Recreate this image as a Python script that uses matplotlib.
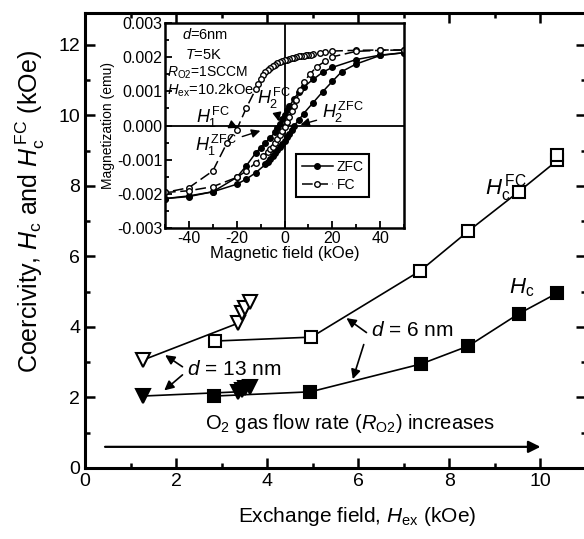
import matplotlib
matplotlib.use("Agg")
import matplotlib.pyplot as plt
from matplotlib.ticker import MultipleLocator, FormatStrFormatter

plt.rcParams['font.family'] = ['Liberation Sans', 'DejaVu Sans']
plt.rcParams['mathtext.fontset'] = 'custom'
plt.rcParams['mathtext.rm'] = 'Liberation Sans'
plt.rcParams['mathtext.it'] = 'Liberation Sans:italic'
plt.rcParams['axes.unicode_minus'] = False

# main panel data (kOe)
hfc6_x = [2.86, 4.97, 7.36, 8.42, 9.52, 10.37, 10.37]
hfc6_y = [3.60, 3.71, 5.59, 6.72, 7.83, 8.72, 8.86]
hc6_x = [2.84, 4.95, 7.38, 8.42, 9.52, 10.37]
hc6_y = [2.04, 2.16, 2.95, 3.46, 4.37, 4.96]
hfc13_x = [1.27, 3.37, 3.45, 3.52, 3.63]
hfc13_y = [3.06, 4.11, 4.40, 4.54, 4.71]
hc13_x = [1.27, 3.37, 3.45, 3.52, 3.63]
hc13_y = [2.04, 2.16, 2.20, 2.27, 2.30]

# inset hysteresis loops (kOe, emu)
zfc_dn_h = [50, 40, 30, 20, 16, 12, 8, 6, 4, 2, 1, 0, -1, -2, -3, -4, -6, -8,
            -10, -12, -16, -20, -30, -40, -50]
zfc_dn_m = [0.00213, 0.00206, 0.00193, 0.00170, 0.00156, 0.00135, 0.00113,
            0.00098, 0.00078, 0.00056, 0.00044, 0.00032, 0.00018, 0.00004,
            -0.00008, -0.00020, -0.00036, -0.00050, -0.00065, -0.00080,
            -0.00118, -0.00152, -0.00194, -0.00206, -0.00214]
zfc_up_h = [-50, -40, -30, -20, -16, -12, -8, -7, -6, -5, -4, -3, -2, -1, 0,
            1, 2, 3, 4, 6, 8, 12, 16, 20, 24, 30, 40, 50]
zfc_up_m = [-0.00214, -0.00208, -0.00194, -0.00172, -0.00157, -0.00138,
            -0.00114, -0.00106, -0.00098, -0.00090, -0.00081, -0.00072,
            -0.00063, -0.00054, -0.00044, -0.00035, -0.00024, -0.00012,
            -0.00001, 0.00016, 0.00035, 0.00067, 0.00099, 0.00129, 0.00158,
            0.00180, 0.00205, 0.00213]
fc_dn_h = [50, 40, 30, 20, 17, 15, 12, 11, 10, 9, 8, 7, 6, 5, 4, 3, 2, 1, 0,
           -1, -2, -3, -4, -5, -6, -7, -8, -9, -10, -11, -12, -16, -20, -24,
           -30, -40, -50]
fc_dn_m = [0.00221, 0.00221, 0.00220, 0.00218, 0.00216, 0.00213, 0.00208,
           0.00207, 0.00206, 0.00205, 0.00204, 0.00203, 0.00202, 0.00201,
           0.00199, 0.00197, 0.00195, 0.00193, 0.00191, 0.00188, 0.00185,
           0.00182, 0.00178, 0.00174, 0.00169, 0.00163, 0.00156, 0.00147,
           0.00136, 0.00122, 0.00107, 0.00051, -0.00012, -0.00050, -0.00133,
           -0.00182, -0.00196]
fc_up_h = [-50, -40, -30, -20, -16, -12, -9, -7, -6, -5, -4, -3, -2, -1, 0,
           1, 2, 3, 4, 5, 6.5, 8, 10.7, 13.5, 17, 20, 30, 40, 50]
fc_up_m = [-0.00196, -0.00191, -0.00179, -0.00152, -0.00133, -0.00109,
           -0.00089, -0.00077, -0.00070, -0.00062, -0.00052, -0.00040,
           -0.00028, -0.00016, -0.00004, 0.00010, 0.00026, 0.00042, 0.00058,
           0.00074, 0.00105, 0.00126, 0.00151, 0.00172, 0.00188, 0.00201,
           0.00217, 0.00220, 0.00221]

fig = plt.figure(figsize=(5.84, 5.39), dpi=100)
ax = fig.add_axes([85 / 584, 71 / 539, 501 / 584, 455 / 539])

mk = dict(color='k', lw=1.2, markeredgecolor='k', markeredgewidth=1.5)
ax.plot(hfc6_x, hfc6_y, marker='s', ms=9, markerfacecolor='white', **mk)
ax.plot(hc6_x, hc6_y, marker='s', ms=9, markerfacecolor='k', **mk)
ax.plot(hfc13_x, hfc13_y, marker='v', ms=10, markerfacecolor='white', **mk)
ax.plot(hc13_x, hc13_y, marker='v', ms=10, markerfacecolor='k', **mk)

ax.set_xlim(0, 11)
ax.set_ylim(0, 12.9)
ax.xaxis.set_major_locator(MultipleLocator(2))
ax.xaxis.set_minor_locator(MultipleLocator(1))
ax.yaxis.set_major_locator(MultipleLocator(2))
ax.yaxis.set_minor_locator(MultipleLocator(1))
ax.tick_params(which='both', direction='in', top=True, right=True, width=1.8,
               labelsize=14)
ax.tick_params(which='major', length=7)
ax.tick_params(which='minor', length=3.5)
for s in ax.spines.values():
    s.set_linewidth(2.2)

ax.set_xlabel(r'Exchange field, $H_\mathrm{ex}$ (kOe)', fontsize=15)
ax.xaxis.set_label_coords(0.543, -0.081)
ax.set_ylabel(r'Coercivity, $H_\mathrm{c}$ and $H_\mathrm{c}^{\,\mathrm{FC}}$ (kOe)',
              fontsize=18)
ax.yaxis.set_label_coords(-0.076, 0.563)

# annotations
ax.text(8.78, 7.95, r'$H_\mathrm{c}^{\,\mathrm{FC}}$', fontsize=16, va='center')
ax.text(9.32, 5.1, r'$H_\mathrm{c}$', fontsize=16, va='center')
ax.text(6.28, 3.9, r'$d$ = 6 nm', fontsize=15, va='center')
ax.text(2.24, 2.78, r'$d$ = 13 nm', fontsize=15, va='center')
ax.text(2.64, 1.25, r'O$_2$ gas flow rate ($R_\mathrm{O2}$) increases',
        fontsize=14.5, va='center')

ap = dict(arrowstyle='-|>', color='k', lw=1.2, mutation_scale=14,
          shrinkA=0, shrinkB=0)
ax.annotate('', xy=(5.74, 4.25), xytext=(6.18, 3.84), arrowprops=ap)
ax.annotate('', xy=(5.88, 2.52), xytext=(6.12, 3.5), arrowprops=ap)
ax.annotate('', xy=(1.76, 3.2), xytext=(2.14, 2.87), arrowprops=ap)
ax.annotate('', xy=(1.74, 2.2), xytext=(2.14, 2.64), arrowprops=ap)
ax.annotate('', xy=(10.0, 0.6), xytext=(0.44, 0.6),
            arrowprops=dict(arrowstyle='-|>', color='k', lw=1.6,
                            mutation_scale=18, shrinkA=0, shrinkB=0))

# inset
ins = fig.add_axes([165 / 584, (539 - 228) / 539, 239 / 584, 205 / 539])
ins.axhline(0, color='k', lw=1.3)
ins.axvline(0, color='k', lw=1.3)
ins.plot(zfc_dn_h, zfc_dn_m, color='k', lw=1.1, marker='o', ms=4,
         markerfacecolor='k', label='ZFC')
ins.plot(zfc_up_h, zfc_up_m, color='k', lw=1.1, marker='o', ms=4,
         markerfacecolor='k')
ins.plot(fc_dn_h, fc_dn_m, color='k', lw=1.1, ls=(0, (7, 3)), marker='o',
         ms=4, markerfacecolor='white', label='FC')
ins.plot(fc_up_h, fc_up_m, color='k', lw=1.1, ls=(0, (7, 3)), marker='o',
         ms=4, markerfacecolor='white')

ins.set_xlim(-50, 50)
ins.set_ylim(-0.003, 0.003)
ins.xaxis.set_major_locator(MultipleLocator(20))
ins.xaxis.set_minor_locator(MultipleLocator(10))
ins.yaxis.set_major_locator(MultipleLocator(0.001))
ins.yaxis.set_minor_locator(MultipleLocator(0.0005))
ins.yaxis.set_major_formatter(FormatStrFormatter('%.3f'))
ins.tick_params(which='both', direction='in', labelsize=11.5, width=1.3, pad=2)
ins.tick_params(which='major', length=5)
ins.tick_params(which='minor', length=3)
for s in ins.spines.values():
    s.set_linewidth(1.8)
ins.set_xlabel('Magnetic field (kOe)', fontsize=12, labelpad=0)
ins.set_ylabel('Magnetization (emu)', fontsize=10, labelpad=1)

ins.text(0.07, 0.945, r'$d$=6nm', transform=ins.transAxes, fontsize=10.5,
         va='center')
ins.text(0.085, 0.845, r'$T$=5K', transform=ins.transAxes, fontsize=10.5,
         va='center')
ins.text(0.01, 0.755, r'$R_\mathrm{O2}$=1SCCM', transform=ins.transAxes,
         fontsize=10, va='center')
ins.text(0.01, 0.672, r'$H_\mathrm{ex}$=10.2kOe', transform=ins.transAxes,
         fontsize=10.5, va='center')

iap = dict(arrowstyle='-|>', color='k', lw=1.0, mutation_scale=13)
ins.annotate(r'$H_1^{\,\mathrm{FC}}$', xy=(-19.5, -0.00007), xytext=(-37, 0.00025),
             fontsize=13, va='center', arrowprops=iap)
ins.annotate(r'$H_1^{\,\mathrm{ZFC}}$', xy=(-9, -0.00013), xytext=(-37.5, -0.00057),
             fontsize=13, va='center', arrowprops=iap)
ins.annotate(r'$H_2^{\,\mathrm{FC}}$', xy=(-2.2, 0.00004), xytext=(-11.5, 0.0008),
             fontsize=13, va='center', arrowprops=iap)
ins.annotate(r'$H_2^{\,\mathrm{ZFC}}$', xy=(5.6, 0.0), xytext=(15.7, 0.00037),
             fontsize=13, va='center', arrowprops=iap)

leg = ins.legend(loc='lower left', bbox_to_anchor=(0.55, 0.15), fontsize=10,
                 frameon=True, fancybox=False, edgecolor='k', framealpha=1,
                 handlelength=2.2, handletextpad=0.3, borderpad=0.4,
                 labelspacing=0.3, borderaxespad=0)
leg.get_frame().set_linewidth(1.5)

fig.savefig('out.png', dpi=100)
